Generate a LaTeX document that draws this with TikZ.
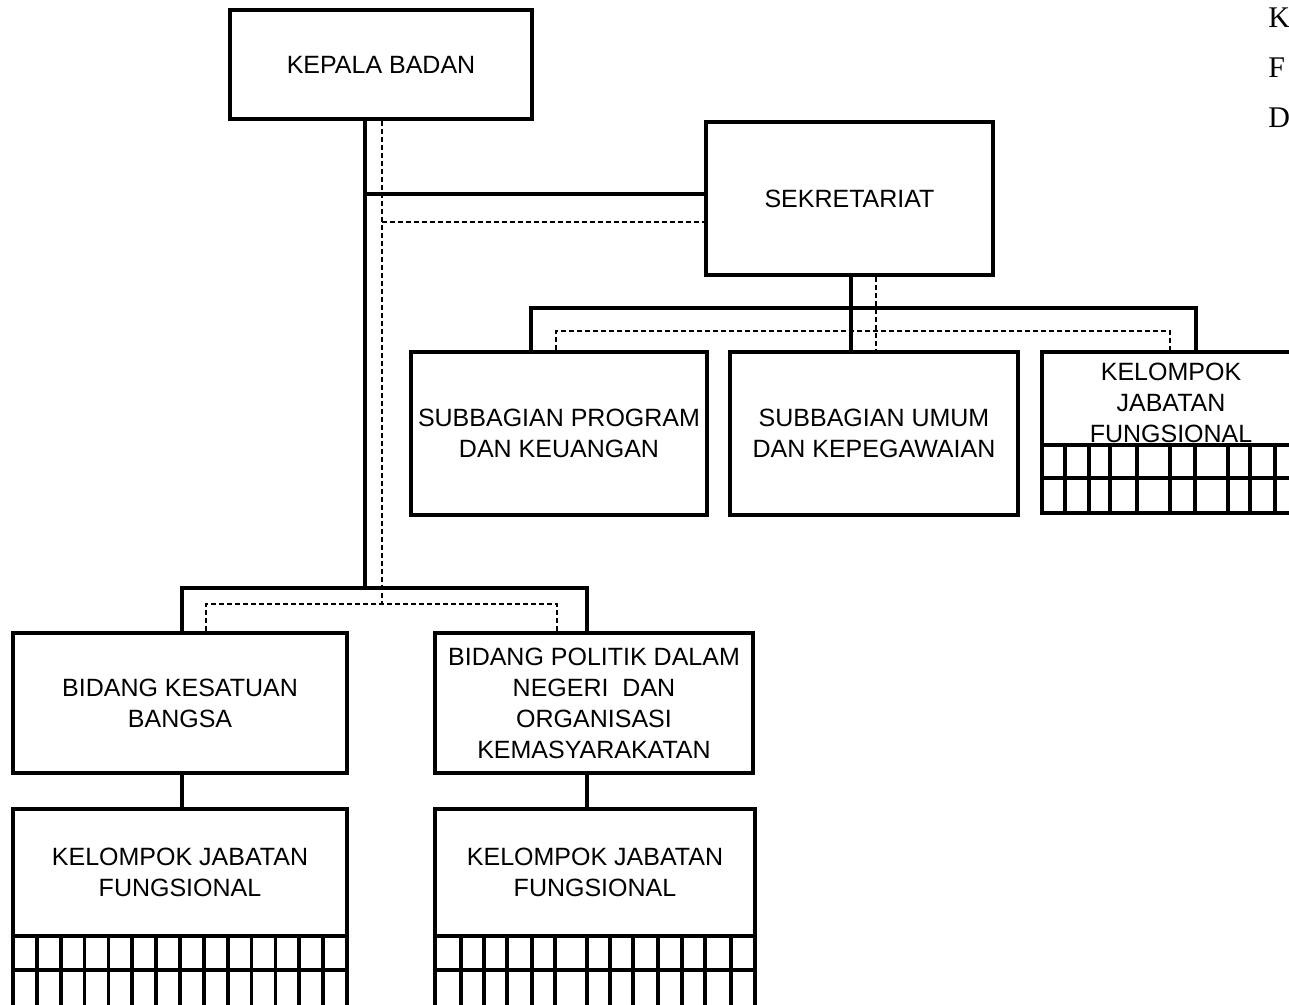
\documentclass[tikz,border=0pt]{standalone}
\usepackage{fontspec}
\setmainfont{Liberation Sans}
\newfontfamily\serifletters{Liberation Serif}
\begin{document}
\begin{tikzpicture}[x=0.5pt,y=-0.5pt,
  unit/.style={draw=black,line width=1.8pt,fill=white,inner sep=0pt,align=center,
    font=\fontsize{12.5}{15.5}\selectfont},
  size/.style 2 args={minimum width=#1*0.5pt,minimum height=#2*0.5pt},
  link/.style={line width=1.6pt},
  dlink/.style={line width=0.9pt,dash pattern=on 2.5pt off 1.5pt},
  gridline/.style={line width=1.9pt},
  sideletter/.style={anchor=west,inner sep=0pt,font=\serifletters\fontsize{15}{15}\selectfont}]

\useasboundingbox (0,0) rectangle (1289,1005);
\fill[white] (0,0) rectangle (1289,1005);

% ---- units ----
\node[unit,size={302}{109}] (kepala) at (381,64.5) {KEPALA BADAN};
\node[unit,size={287}{153}] (sekr) at (849.5,198.5) {SEKRETARIAT};
\node[unit,size={296}{163}] (subprog) at (559,433.5) {SUBBAGIAN PROGRAM\\DAN KEUANGAN};
\node[unit,size={288}{163}] (subumum) at (874,433.5) {SUBBAGIAN UMUM\\DAN KEPEGAWAIAN};
\node[unit,size={258}{93},
  label={[align=center,inner sep=0pt,yshift=-2.4pt,font=\fontsize{12.5}{15.5}\selectfont]center:KELOMPOK\\JABATAN\\FUNGSIONAL}]
  (kjfR) at (1171,398.5) {};
\node[unit,size={334}{140}] (bidkes) at (180,703) {BIDANG KESATUAN\\BANGSA};
\node[unit,size={318}{140}] (bidpol) at (594,703) {BIDANG POLITIK DALAM\\NEGERI\ \ DAN\\ORGANISASI\\KEMASYARAKATAN};
\node[unit,size={334}{127}] (kjfL) at (180,872.5) {KELOMPOK JABATAN\\FUNGSIONAL};
\node[unit,size={320}{127}] (kjfM) at (595,872.5) {KELOMPOK JABATAN\\FUNGSIONAL};

% ---- grids under the functional groups ----
\draw[gridline] (13,936) rectangle (347,1008);
\draw[gridline] (13,970) -- (347,970);
\foreach \i in {1,...,13} \draw[gridline] ({13+\i*334/14},936) -- ({13+\i*334/14},1008);

\draw[gridline] (435,936) rectangle (755,1008);
\draw[gridline] (435,970) -- (755,970);
\foreach \x in {461,484,507,532,555,587,610,633,658,682,705,731} \draw[gridline] (\x,936) -- (\x,1008);

\draw[gridline] (1042,445) rectangle (1300,513);
\draw[gridline] (1042,478) -- (1300,478);
\foreach \x in {1065,1089,1110,1137,1170,1195,1228,1250,1275} \draw[gridline] (\x,445) -- (\x,513);

% ---- junction points ----
\coordinate (jSk) at (365,194);
\coordinate (dSk) at (382,222);
\coordinate (jB) at (365,588);
\coordinate (dB) at (382,604);
\coordinate (bL) at (182,588);
\coordinate (bR) at (587,588);
\coordinate (dL) at (206,604);
\coordinate (dR) at (557,604);
\coordinate (sj) at (851,308);
\coordinate (sd) at (876,331);
\coordinate (sL) at (531,308);
\coordinate (sR) at (1196,308);
\coordinate (sdL) at (556,331);
\coordinate (sdR) at (1170,331);

% ---- command lines (solid) ----
\draw[link] (kepala.south -| jB) -- (jB);
\draw[link] (jSk) -- (jSk -| sekr.west);
\draw[link] (bidkes.north -| bL) |- (bR) -- (bidpol.north -| bR);
\draw[link] (sekr.south -| sj) -- (subumum.north -| sj);
\draw[link] (subprog.north -| sL) |- (sR) -- (kjfR.north -| sR);
\draw[link] (bidkes.south -| bL) -- (kjfL.north -| bL);
\draw[link] (bidpol.south -| bR) -- (kjfM.north -| bR);

% ---- coordination lines (dashed) ----
\draw[dlink] (kepala.south -| dB) -- (dB);
\draw[dlink] (dSk) -- (dSk -| sekr.west);
\draw[dlink] (bidkes.north -| dL) |- (dR) -- (bidpol.north -| dR);
\draw[dlink] (sekr.south -| sd) -- (subumum.north -| sd);
\draw[dlink] (subprog.north -| sdL) |- (sdR) -- (kjfR.north -| sdR);

% ---- letters at the right margin ----
\node[sideletter] (lk) at (1268,18) {K};
\node[sideletter] (lf) at (1268,68) {F};
\node[sideletter] (ld) at (1268,118) {D};
\end{tikzpicture}
\end{document}
